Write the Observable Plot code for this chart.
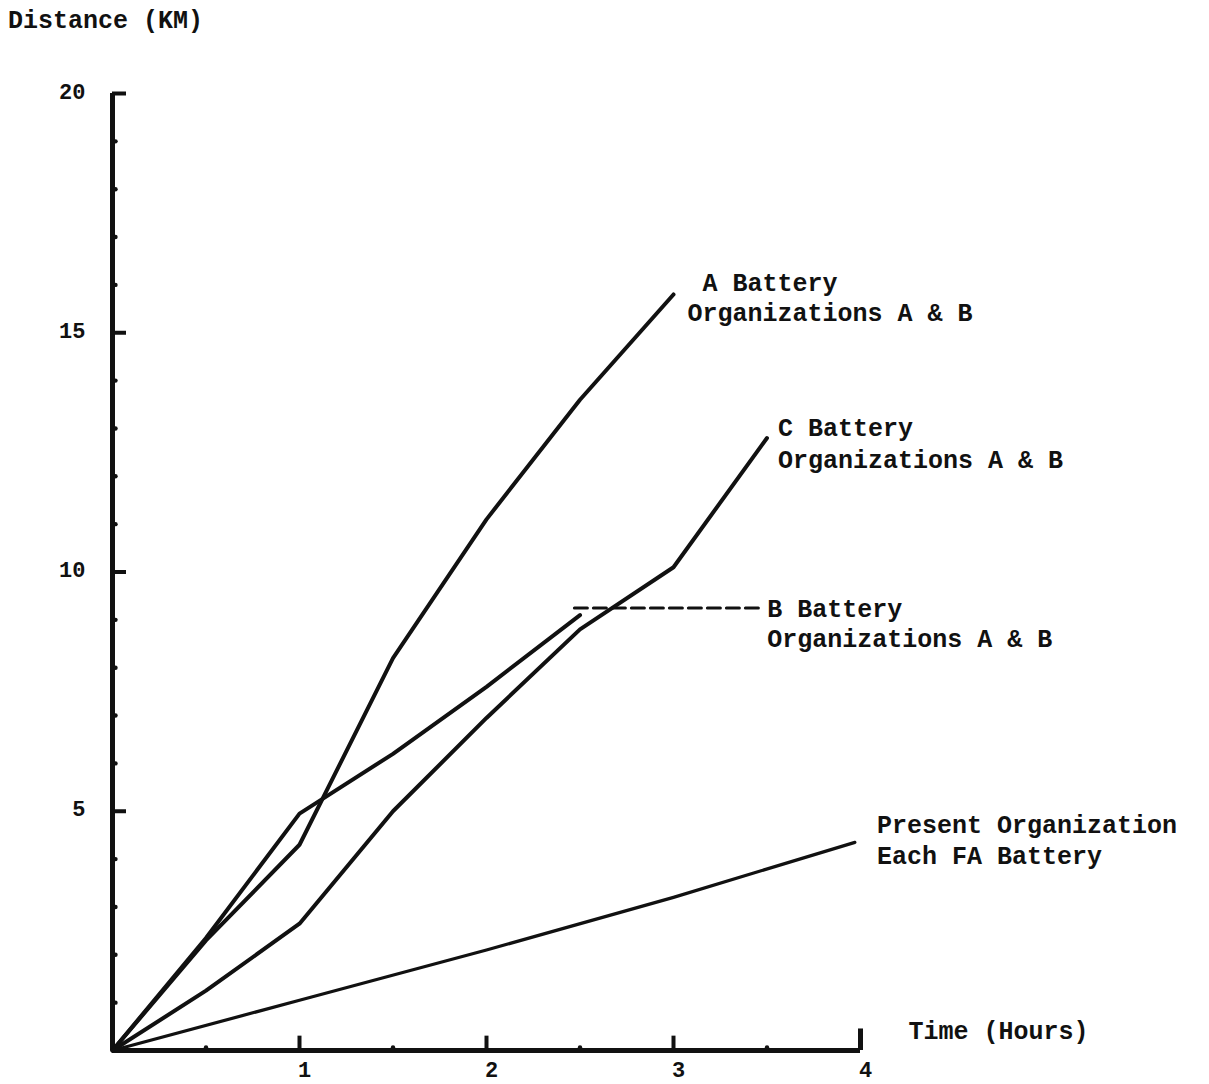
<!DOCTYPE html>
<html><head><meta charset="utf-8">
<script src="https://cdn.jsdelivr.net/npm/d3@7"></script>
<script src="https://cdn.jsdelivr.net/npm/@observablehq/plot@0.6"></script>
<style>
body{margin:0;background:#fff;}
#ylabel{height:50px;font:bold 25px "Liberation Mono",monospace;line-height:44px;padding-left:8px;color:#111;white-space:pre;box-sizing:border-box;}
svg{font-family:"Liberation Mono",monospace;}
</style></head>
<body><div id="ylabel">Distance (KM)</div><div id="chart"></div>
<script>
// Time (hours) and distance (km)
const hoursA = [0, 0.5, 1, 1.5, 2, 2.5, 3];
const distA  = [0, 2.3, 4.3, 8.2, 11.1, 13.6, 15.8];
const hoursB = [0, 0.5, 1, 1.5, 2, 2.5];
const distB  = [0, 2.35, 4.95, 6.2, 7.6, 9.1];
const hoursC = [0, 0.5, 1, 1.5, 2, 2.5, 3, 3.5];
const distC  = [0, 1.25, 2.65, 5.0, 6.95, 8.8, 10.1, 12.8];
const hoursP = [0, 1, 2, 3, 3.97];
const distP  = [0, 1.05, 2.1, 3.2, 4.35];
const leaderBx = [2.47, 3.48];
const leaderBy = [9.25, 9.25];

const labelA = "\u00a0A Battery\nOrganizations A & B";
const labelB = "B Battery\nOrganizations A & B";
const labelC = "C Battery\nOrganizations A & B";
const labelP = "Present Organization\nEach FA Battery";
const xLabel = "Time (Hours)";

const yMajor = [5, 10, 15, 20];
const yMinor = [1,2,3,4,6,7,8,9,11,12,13,14,16,17,18,19];
const xMajor = [1, 2, 3];
const xEnd = [4];
const xMinor = [0.5, 1.5, 2.5, 3.5];

const mk = (name, xs, ys) => xs.map((x, i) => ({series: name, x, y: ys[i]}));
const solid = [
  ...mk("A", hoursA, distA),
  ...mk("B", hoursB, distB),
  ...mk("C", hoursC, distC)
];
const present = mk("P", hoursP, distP);
const leader = mk("Bdash", leaderBx, leaderBy);
const last = a => a[a.length - 1];

const font = {fontFamily: "Liberation Mono, monospace", fontWeight: "bold", fill: "#111"};

const chart = Plot.plot({
  width: 1209,
  height: 1034,
  marginLeft: 112,
  marginRight: 349,
  marginTop: 43,
  marginBottom: 34,
  x: {domain: [0, 4]},
  y: {domain: [0, 20]},
  marks: [
    Plot.axisY(yMajor, {tickSize: 0, tickPadding: 27, fontSize: 22, fontWeight: "bold", fill: "#111", label: null, fontFamily: "Liberation Mono, monospace", tickFormat: d => String(d), dy: -2}),
    Plot.axisX([...xMajor, ...xEnd], {tickSize: 0, tickPadding: 11, fontSize: 22, fontWeight: "bold", fill: "#111", label: null, fontFamily: "Liberation Mono, monospace", tickFormat: d => String(d), dx: 5}),
    Plot.ruleX([0], {y1: 0, y2: 20, stroke: "#111", strokeWidth: 5}),
    Plot.ruleY([0], {x1: 0, x2: 4, stroke: "#111", strokeWidth: 5}),
    Plot.ruleY(yMajor, {x1: 0, x2: 0.075, stroke: "#111", strokeWidth: 4}),
    Plot.ruleX(xMajor, {y1: 0, y2: 0.3, stroke: "#111", strokeWidth: 4}),
    Plot.ruleX(xEnd, {y1: 0, y2: 0.45, stroke: "#111", strokeWidth: 5}),
    Plot.dot(yMinor, {x: 0, y: d => d, r: 2.2, fill: "#111", dx: 3}),
    Plot.dot(xMinor, {x: d => d, y: 0, r: 2.2, fill: "#111", dy: -3}),
    Plot.line(solid, {x: "x", y: "y", z: "series", stroke: "#111", strokeWidth: 4, strokeLinejoin: "round"}),
    Plot.line(present, {x: "x", y: "y", stroke: "#111", strokeWidth: 3.2}),
    Plot.line(leader, {x: "x", y: "y", stroke: "#111", strokeWidth: 3, strokeDasharray: "13,6"}),
    Plot.text([labelA], {x: last(hoursA), y: last(distA), textAnchor: "start", lineAnchor: "middle", dx: 14, dy: 2, fontSize: 25, lineHeight: 1.2, ...font}),
    Plot.text([labelC], {x: last(hoursC), y: last(distC), textAnchor: "start", lineAnchor: "middle", dx: 11, dy: 4, fontSize: 25, lineHeight: 1.25, ...font}),
    Plot.text([labelB], {x: last(leaderBx), y: last(leaderBy), textAnchor: "start", lineAnchor: "middle", dx: 4, dy: 15, fontSize: 25, lineHeight: 1.2, ...font}),
    Plot.text([labelP], {x: last(hoursP), y: last(distP), textAnchor: "start", lineAnchor: "middle", dx: 22, dy: -4, fontSize: 25, lineHeight: 1.25, ...font}),
    Plot.text([xLabel], {x: 4, y: 0, textAnchor: "start", lineAnchor: "middle", dx: 48, dy: -20, fontSize: 25, ...font})
  ]
});
document.getElementById("chart").appendChild(chart);
</script>
</body></html>
